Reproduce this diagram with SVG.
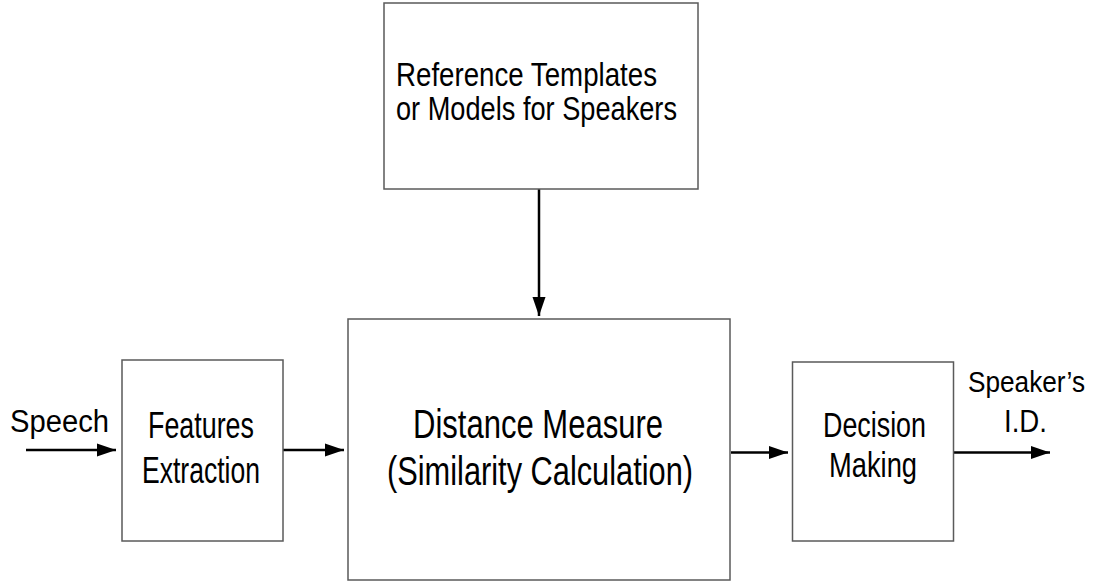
<svg xmlns="http://www.w3.org/2000/svg" width="1099" height="586" viewBox="0 0 1099 586">
  <style>
    .box { fill: #ffffff; stroke: #5a5a5a; stroke-width: 1.5; }
    .lbl { font-family: "Liberation Sans Narrow", "Liberation Sans", Arial, sans-serif; fill: #000000; }
    .wire { stroke: #000000; stroke-width: 2.5; fill: none; marker-end: url(#head); }
  </style>
  <defs>
    <marker id="head" markerUnits="userSpaceOnUse" markerWidth="20" markerHeight="14" refX="19" refY="7" orient="auto">
      <path d="M0,0.5 L19,7 L0,13.5 Z" fill="#000000"/>
    </marker>
  </defs>
  <rect width="1099" height="586" fill="#ffffff"/>

  <!-- connectors -->
  <g id="connectors">
    <line class="wire" x1="26" y1="450" x2="116" y2="450"/>
    <line class="wire" x1="283" y1="450" x2="344" y2="450"/>
    <line class="wire" x1="539" y1="189" x2="539" y2="316"/>
    <line class="wire" x1="731" y1="452.5" x2="788" y2="452.5"/>
    <line class="wire" x1="953" y1="452.5" x2="1050" y2="452.5"/>
  </g>

  <g id="reference-models">
    <rect class="box" x="384" y="3" width="314" height="186"/>
    <text class="lbl" font-size="33" x="396" y="86" textLength="261" lengthAdjust="spacingAndGlyphs">Reference Templates</text>
    <text class="lbl" font-size="33" x="396" y="120" textLength="281" lengthAdjust="spacingAndGlyphs">or Models for Speakers</text>
  </g>

  <g id="speech-input">
    <text class="lbl" font-size="31" x="10" y="432" textLength="99" lengthAdjust="spacingAndGlyphs">Speech</text>
  </g>

  <g id="features-extraction">
    <rect class="box" x="122" y="360" width="161" height="181"/>
    <text class="lbl" font-size="36" x="148" y="438" textLength="106" lengthAdjust="spacingAndGlyphs">Features</text>
    <text class="lbl" font-size="36" x="142" y="483" textLength="118" lengthAdjust="spacingAndGlyphs">Extraction</text>
  </g>

  <g id="distance-measure">
    <rect class="box" x="348" y="319" width="382" height="261"/>
    <text class="lbl" font-size="40" x="413" y="438" textLength="250" lengthAdjust="spacingAndGlyphs">Distance Measure</text>
    <text class="lbl" font-size="40" x="387" y="485" textLength="306" lengthAdjust="spacingAndGlyphs">(Similarity Calculation)</text>
  </g>

  <g id="decision-making">
    <rect class="box" x="792.5" y="362" width="161" height="179"/>
    <text class="lbl" font-size="35" x="823" y="437" textLength="103" lengthAdjust="spacingAndGlyphs">Decision</text>
    <text class="lbl" font-size="35" x="829" y="477" textLength="88" lengthAdjust="spacingAndGlyphs">Making</text>
  </g>

  <g id="speaker-id">
    <text class="lbl" font-size="29" x="968" y="392" textLength="117" lengthAdjust="spacingAndGlyphs">Speaker’s</text>
    <text class="lbl" font-size="31" x="1004" y="432" textLength="43" lengthAdjust="spacingAndGlyphs">I.D.</text>
  </g>
</svg>
